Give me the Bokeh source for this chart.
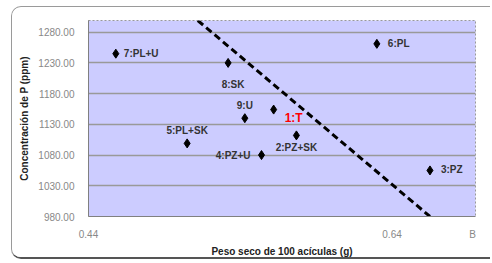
from bokeh.plotting import figure
from bokeh.models import (Range1d, FixedTicker, NumeralTickFormatter, ColumnDataSource)
from bokeh.core.properties import value
from bokeh.embed import file_html
from bokeh.resources import INLINE

# ---- data ----
names = ["1:T", "2:PZ+SK", "3:PZ", "4:PZ+U", "5:PL+SK", "6:PL", "7:PL+U", "8:SK", "9:U"]
peso = [0.562, 0.577, 0.665, 0.554, 0.505, 0.630, 0.458, 0.532, 0.543]
conc = [1154, 1112, 1055, 1080, 1099, 1261, 1245, 1230, 1140]
trend_x = [0.512, 0.665]
trend_y = [1299, 980]
y_ticks = [980, 1030, 1080, 1130, 1180, 1230, 1280]
x_ticks = [0.44, 0.64]
panel_letter = "B"
panel_letter_x = 0.693

# ---- label styling (positions relative to the points) ----
lab_dx = [11, 0, 11, -11, 0, 11, 8, 5, 0]
lab_dy = [8, 12, -1, 0, -13, 0, 0, 22, -13]
lab_align = ["left", "center", "left", "right", "center", "left", "left", "center", "center"]
lab_color = ["#ff0000"] + ["#333333"] * 8
lab_size = ["12px"] + ["10px"] * 8

FONT = "Liberation Sans"

p = figure(width=479, height=253, output_backend="svg", toolbar_location=None,
           x_range=Range1d(0.44, 0.695), y_range=Range1d(980, 1299),
           min_border_left=76, min_border_right=16, min_border_top=13, min_border_bottom=44)
p.margin = (6, 0, 0, 11)
p.styles = {"border-left": "1px solid #9a9a9a", "border-top": "1px solid #9a9a9a",
            "border-bottom": "2px solid #555555",
            "border-radius": "10px 0 0 10px", "overflow": "hidden"}
p.background_fill_color = "#ccccff"
p.border_fill_color = "white"
p.outline_line_color = "#999999"
p.outline_line_dash = "2 2"
p.outline_line_width = 1

p.xgrid.visible = False
p.ygrid.grid_line_color = "#999999"
p.ygrid.grid_line_width = 1.5
p.ygrid.ticker = FixedTicker(ticks=y_ticks)

p.xaxis.ticker = FixedTicker(ticks=x_ticks + [panel_letter_x])
p.xaxis.major_label_overrides = {panel_letter_x: panel_letter}
p.yaxis.ticker = FixedTicker(ticks=y_ticks)
p.xaxis.formatter = NumeralTickFormatter(format="0.00")
p.yaxis.formatter = NumeralTickFormatter(format="0.00")
for ax in (p.xaxis, p.yaxis):
    ax.axis_line_color = "#808080"
    ax.major_tick_line_color = None
    ax.minor_tick_line_color = None
    ax.major_label_text_font = FONT
    ax.major_label_text_font_size = "10px"
    ax.major_label_text_color = "#888888"
    ax.axis_label_text_font = FONT
    ax.axis_label_text_font_size = "10px"
    ax.axis_label_text_font_style = "bold"
    ax.axis_label_text_color = "#222222"
p.xaxis.axis_label = "Peso seco de 100 acículas (g)"
p.yaxis.axis_label = "Concentración de P (ppm)"
p.xaxis.major_label_standoff = 6
p.yaxis.major_label_standoff = 8
p.xaxis.axis_label_standoff = 3
p.yaxis.axis_label_standoff = 5

# trend line
p.line(trend_x, trend_y, line_color="black", line_width=3, line_dash="7 4")

src = ColumnDataSource(dict(x=peso, y=conc, name=names, dx=lab_dx, dy=lab_dy,
                            align=lab_align, color=lab_color, size=lab_size))
p.scatter("x", "y", source=src, marker="diamond", size=9, color="black")
p.text("x", "y", text="name", source=src, x_offset="dx", y_offset="dy",
       text_align="align", text_baseline="middle", text_color="color",
       text_font_size="size", text_font=value(FONT), text_font_style="bold")

open("out.html", "w").write(file_html(p, INLINE))
